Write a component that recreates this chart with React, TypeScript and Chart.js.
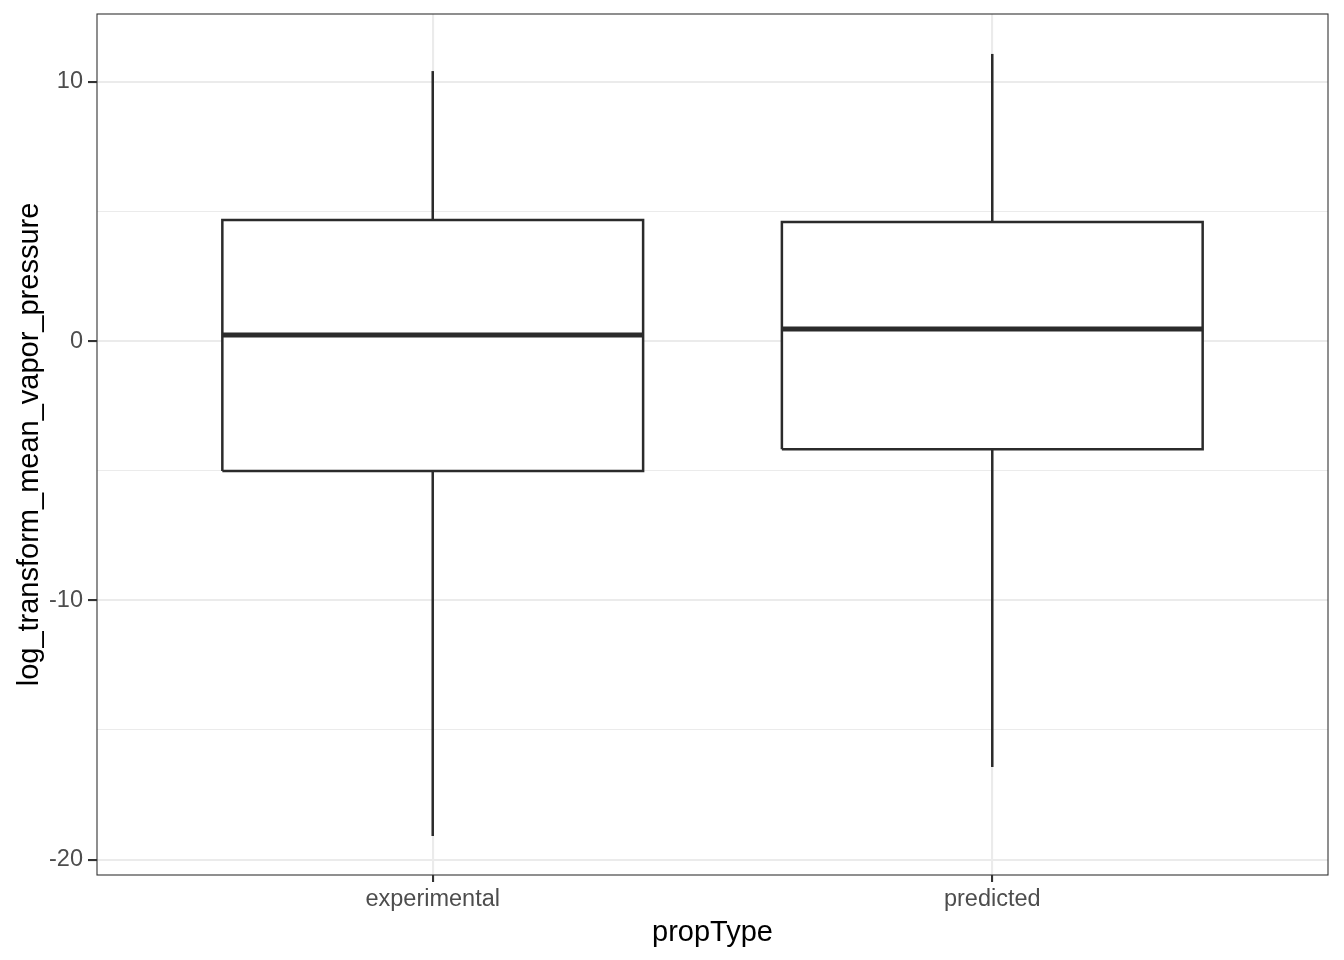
import React, { useEffect, useRef } from "react";
import { Chart, registerables } from "chart.js";

Chart.register(...registerables);

const categories = ["experimental", "predicted"];
const lowerWhisker = [-19.09, -16.43];
const q1 = [-5.01, -4.17];
const median = [0.23, 0.46];
const q3 = [4.67, 4.59];
const upperWhisker = [10.41, 11.07];
const yTicks = [-20, -15, -10, -5, 0, 5, 10];
const yMajor = [-20, -10, 0, 10];
const yMin = -20.59;
const yMax = 12.61;
const boxHalfWidth = 0.376;

const FONT = "'Liberation Sans', Arial, Helvetica, sans-serif";
const INK = "#2b2b2b";

const panelBorder = {
  id: "panelBorder",
  afterDraw(chart: any) {
    const { ctx, chartArea } = chart;
    ctx.save();
    ctx.strokeStyle = "#333333";
    ctx.lineWidth = 1.1;
    ctx.strokeRect(chartArea.left, chartArea.top, chartArea.right - chartArea.left, chartArea.bottom - chartArea.top);
    ctx.restore();
  },
};

export default function App() {
  const ref = useRef<HTMLCanvasElement>(null);
  useEffect(() => {
    document.body.style.margin = "0";
    const datasets: any[] = [];
    categories.forEach((c, i) => {
      const x = i + 1;
      datasets.push({
        label: c + " median",
        data: [
          { x: x - boxHalfWidth, y: median[i] },
          { x: x + boxHalfWidth, y: median[i] },
        ],
        showLine: true,
        borderColor: INK,
        borderWidth: 5,
        pointRadius: 0,
        borderCapStyle: "butt",
        order: 0,
      });
    });
    categories.forEach((c, i) => {
      const x = i + 1;
      datasets.push({
        label: c + " box",
        data: [
          { x: x - boxHalfWidth, y: q1[i] },
          { x: x + boxHalfWidth, y: q1[i] },
          { x: x + boxHalfWidth, y: q3[i] },
          { x: x - boxHalfWidth, y: q3[i] },
          { x: x - boxHalfWidth, y: q1[i] },
        ],
        showLine: true,
        fill: "shape",
        backgroundColor: "#ffffff",
        borderColor: INK,
        borderWidth: 2.5,
        borderJoinStyle: "miter",
        pointRadius: 0,
        order: 1,
      });
      datasets.push({
        label: c + " upper whisker",
        data: [
          { x, y: q3[i] },
          { x, y: upperWhisker[i] },
        ],
        showLine: true,
        borderColor: INK,
        borderWidth: 2.5,
        pointRadius: 0,
        order: 2,
      });
      datasets.push({
        label: c + " lower whisker",
        data: [
          { x, y: q1[i] },
          { x, y: lowerWhisker[i] },
        ],
        showLine: true,
        borderColor: INK,
        borderWidth: 2.5,
        pointRadius: 0,
        order: 2,
      });
    });

    const chart = new Chart(ref.current as HTMLCanvasElement, {
      type: "scatter",
      data: { datasets },
      plugins: [panelBorder],
      options: {
        animation: false,
        responsive: false,
        layout: { padding: { left: 0, top: 14, right: 16, bottom: 0 } },
        plugins: { legend: { display: false }, tooltip: { enabled: false } },
        scales: {
          x: {
            type: "linear",
            min: 0.4,
            max: 2.6,
            afterBuildTicks: (scale: any) => {
              scale.ticks = categories.map((_, i) => ({ value: i + 1 }));
            },
            afterFit: (scale: any) => {
              scale.height = 85;
              scale.paddingLeft = 0;
              scale.paddingRight = 0;
            },
            border: { display: false },
            grid: {
              color: "#EBEBEB",
              lineWidth: 2.1,
              drawTicks: true,
              tickLength: 7,
              tickColor: "#333333",
              tickWidth: 2.1,
            },
            ticks: {
              autoSkip: false,
              maxRotation: 0,
              padding: 3,
              color: "#4D4D4D",
              font: { family: FONT, size: 23.5 },
              callback: (v: any) => categories[Math.round(Number(v)) - 1] ?? "",
            },
            title: {
              display: true,
              text: "propType",
              color: "#000000",
              font: { family: FONT, size: 29 },
              padding: { top: 0, bottom: 10 },
            },
          },
          y: {
            type: "linear",
            min: yMin,
            max: yMax,
            afterBuildTicks: (scale: any) => {
              scale.ticks = yTicks.map((v) => ({ value: v }));
            },
            afterFit: (scale: any) => {
              scale.width = 97;
              scale.paddingTop = 0;
              scale.paddingBottom = 0;
            },
            border: { display: false },
            grid: {
              color: "#EBEBEB",
              lineWidth: (ctx: any) => (yMajor.includes(ctx.tick?.value) ? 2.1 : 1.1),
              drawTicks: true,
              tickLength: 9,
              tickColor: (ctx: any) => (yMajor.includes(ctx.tick?.value) ? "#333333" : "rgba(0,0,0,0)"),
              tickWidth: 2.1,
            },
            ticks: {
              padding: 5,
              color: "#4D4D4D",
              font: { family: FONT, size: 23.5 },
              callback: (v: any) => (yMajor.includes(Number(v)) ? String(v) : ""),
            },
            title: {
              display: true,
              text: "log_transform_mean_vapor_pressure",
              color: "#000000",
              font: { family: FONT, size: 29 },
              padding: { top: 13, bottom: 0 },
            },
          },
        },
      },
    });
    return () => chart.destroy();
  }, []);
  return (
    <div style={{ width: 1344, height: 960, background: "#ffffff" }}>
      <canvas ref={ref} width={1344} height={960} />
    </div>
  );
}
